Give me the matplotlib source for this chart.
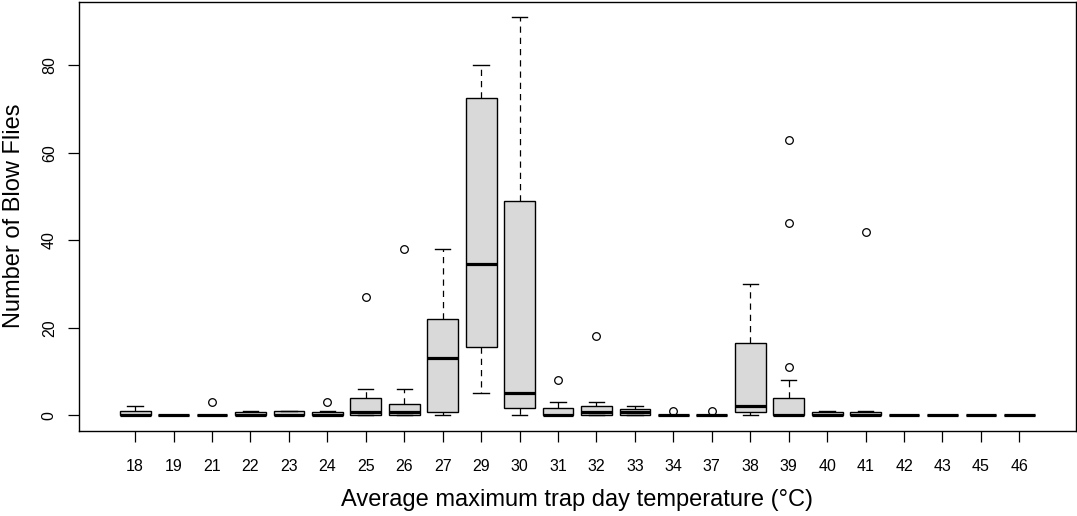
import matplotlib
matplotlib.use("Agg")
import matplotlib.pyplot as plt

plt.rcParams['font.family'] = ['Liberation Sans', 'DejaVu Sans']

categories = ["18","19","21","22","23","24","25","26","27","29","30","31",
              "32","33","34","37","38","39","40","41","42","43","45","46"]
whis_lo = [0,0,0,0,0,0,0,0,0,5,0,0,0,0,0,0,0,0,0,0,0,0,0,0]
q1      = [0,0,0,0,0,0,0,0,0.7,15.5,1.7,0,0,0,0,0,0.7,0,0,0,0,0,0,0]
medians = [0,0,0,0,0,0,0.75,0.7,13,34.5,5,0,0.75,0.7,0,0,2,0,0,0,0,0,0,0]
q3      = [1,0,0,0.7,1,0.7,4,2.5,22,72.5,49,1.6,2.1,1.5,0,0,16.5,4,0.7,0.7,0,0,0,0]
whis_hi = [2,0,0,1,1,1,6,6,38,80,91,3,3,2,0,0,30,8,1,1,0,0,0,0]
outliers = [[],[],[3],[],[],[3],[27],[38],[],[],[],[8],
            [18],[],[1],[1],[],[11,44,63],[],[42],[],[],[],[]]

stats = []
for i, c in enumerate(categories):
    stats.append(dict(label=c, whislo=whis_lo[i], q1=q1[i], med=medians[i],
                      q3=q3[i], whishi=whis_hi[i], fliers=outliers[i]))

W, H = 1077, 516
fig = plt.figure(figsize=(W/100, H/100), dpi=100)
ax = fig.add_axes([79/W, (H-431)/H, (1075.5-79)/W, (431-1.5)/H])

positions = list(range(1, len(categories)+1))
ax.bxp(stats, positions=positions, widths=0.8, patch_artist=True,
       boxprops=dict(facecolor='#d9d9d9', edgecolor='black', linewidth=1.0),
       medianprops=dict(color='black', linewidth=2.3, solid_capstyle='butt'),
       whiskerprops=dict(color='black', linewidth=0.9, linestyle=(0, (5, 4))),
       capprops=dict(color='black', linewidth=1.0),
       capwidths=0.4,
       flierprops=dict(marker='o', markerfacecolor='none', markeredgecolor='black',
                       markersize=5.5, markeredgewidth=0.9, linestyle='none'))

n = len(categories)
ax.set_xlim(0.5 - 0.04 * n, n + 0.5 + 0.04 * n)
ax.set_ylim(-3.64, 94.64)

ax.set_xticks(positions)
ax.set_xticklabels(categories, fontsize=11.5)
ax.set_yticks([0, 20, 40, 60, 80])
ax.set_yticklabels(["0", "20", "40", "60", "80"], fontsize=11.5, rotation=90, va='center')
ax.tick_params(axis='both', direction='out', length=8, width=0.9, pad=12, colors='black')
ax.tick_params(axis='y', pad=8)

for s in ax.spines.values():
    s.set_linewidth(1.0)

ax.set_xlabel("Average maximum trap day temperature (\u00b0C)", fontsize=17, labelpad=11)
ax.set_ylabel("Number of Blow Flies", fontsize=17, labelpad=12)

fig.savefig("out.png", dpi=100)
